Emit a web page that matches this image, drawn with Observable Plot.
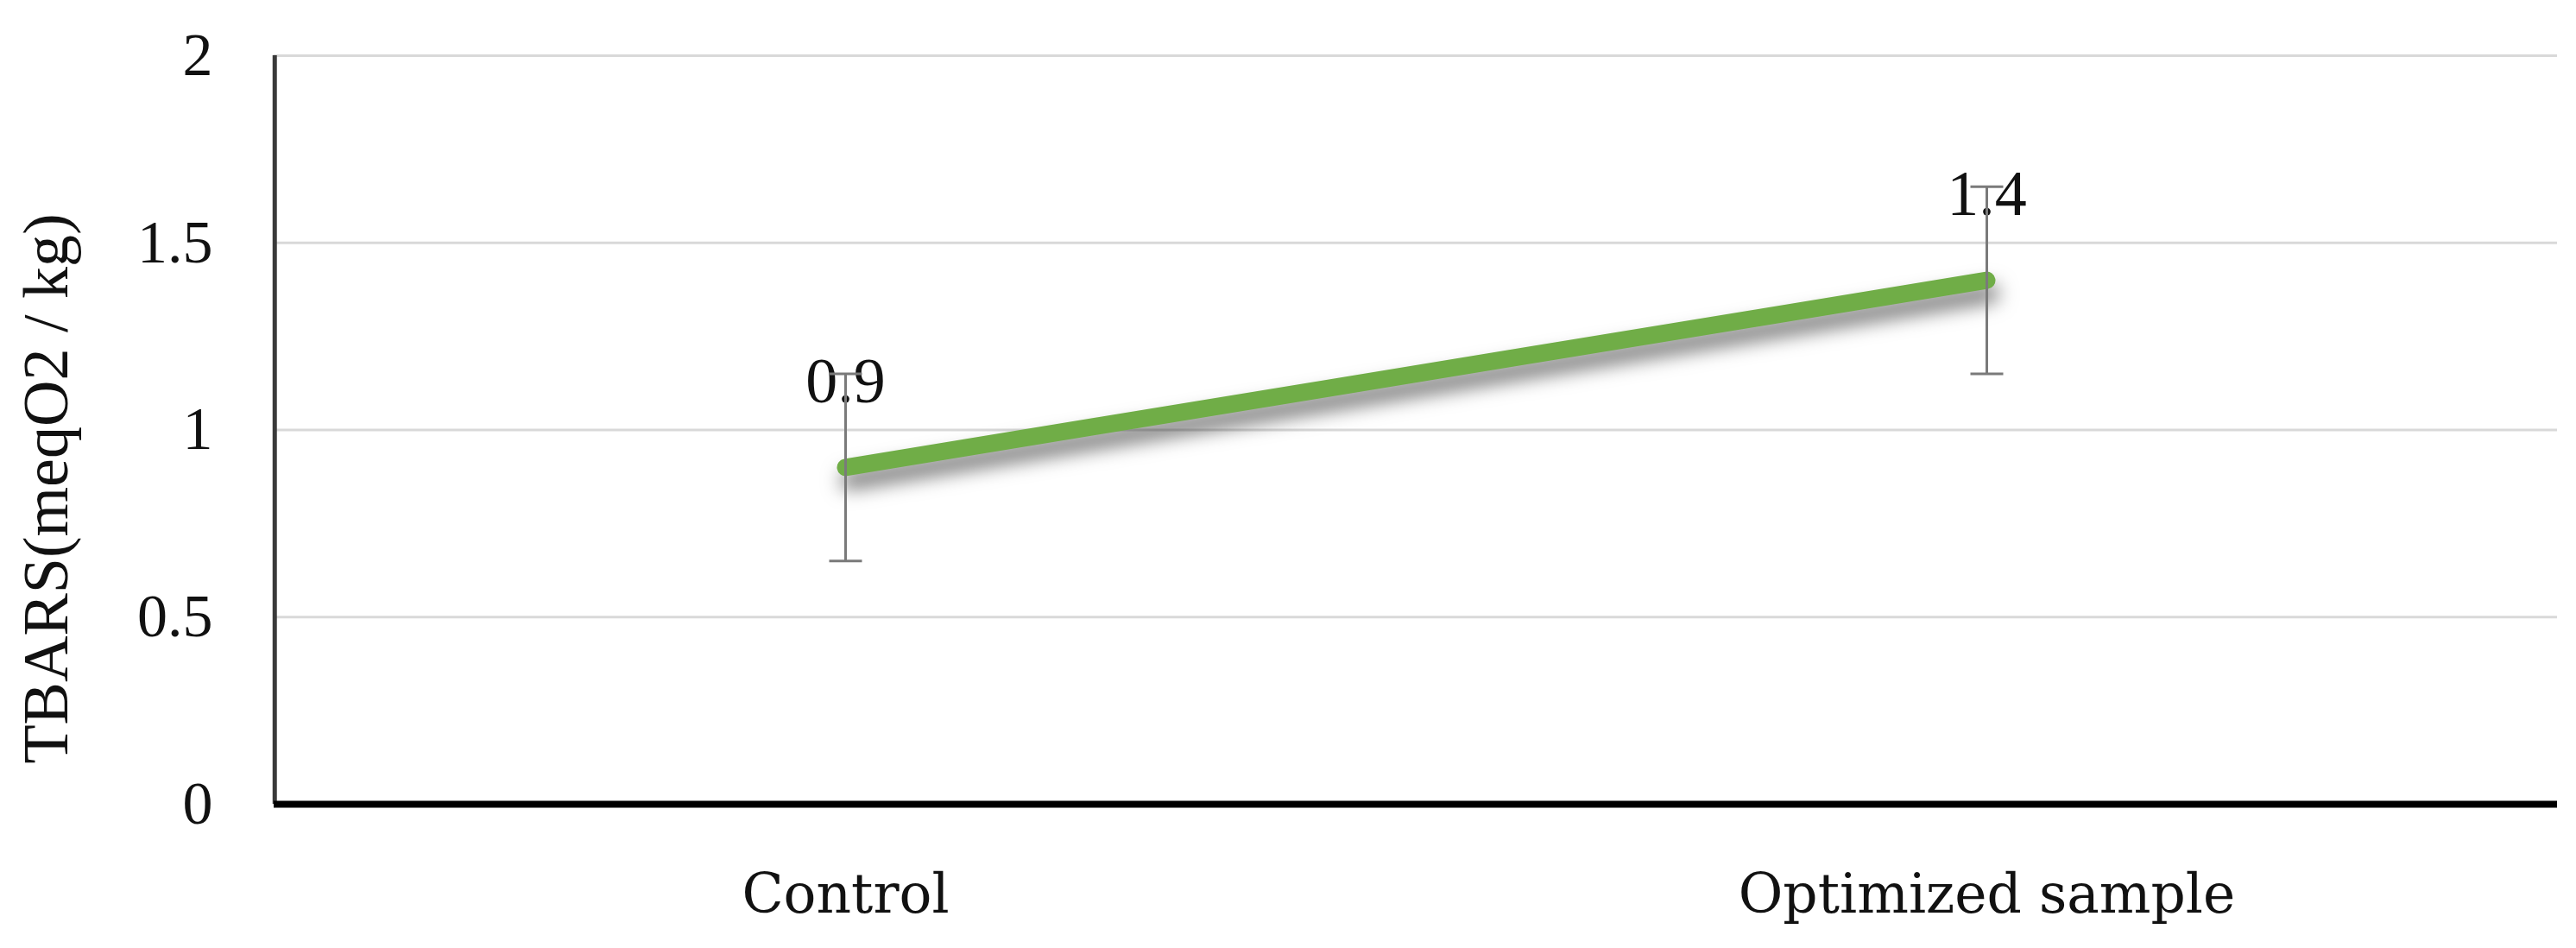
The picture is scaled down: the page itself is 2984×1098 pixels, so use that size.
<!DOCTYPE html>
<html>
<head>
<meta charset="utf-8">
<script src="https://cdn.jsdelivr.net/npm/d3@7"></script>
<script src="https://cdn.jsdelivr.net/npm/@observablehq/plot@0.6"></script>
<style>
  html, body { margin: 0; padding: 0; background: #fff; }
  #chart svg { display: block; }
</style>
</head>
<body>
<div id="chart"></div>
<script>
// ---- data ----
const categories = ["Control", "Optimized sample"];
const values = [0.9, 1.4];
const errors = [0.25, 0.25];
const yTicks = [0, 0.5, 1, 1.5, 2];
const yTitle = "TBARS(meqO2 / kg)";

const data = categories.map((c, i) => ({
  cat: c, value: values[i], lo: values[i] - errors[i], hi: values[i] + errors[i]
}));

// ---- layout ----
const W = 2984, H = 1098;
const ml = 317, mr = 22, mt = 64, mb = 167;
const plotW = W - ml - mr;
const step = plotW / categories.length;
const serif = "'Liberation Serif', 'DejaVu Serif', serif";
const green = "#70AD47";
const errColor = "#7a7a7a";

// horizontal error-bar cap drawn as a custom symbol (half-width = dot radius)
const capSymbol = {
  draw(context, size) {
    const w = Math.sqrt(size / Math.PI);
    context.moveTo(-w, 0);
    context.lineTo(w, 0);
  }
};

const chart = Plot.plot({
  width: W,
  height: H,
  marginLeft: ml,
  marginRight: mr,
  marginTop: mt,
  marginBottom: mb,
  style: { fontFamily: serif, background: "#fff", color: "#111" },
  x: { type: "point", domain: categories, padding: 0.5, label: null },
  y: { domain: [0, 2], ticks: yTicks, label: null },
  marks: [
    Plot.gridY(yTicks, { stroke: "#d9d9d9", strokeOpacity: 1, strokeWidth: 3 }),
    Plot.axisY(yTicks, {
      tickSize: 0, tickPadding: 71, fontSize: 70, fontFamily: serif,
      tickFormat: d => String(d), label: null
    }),
    Plot.axisX({
      tickSize: 0, tickPadding: 81, fontSize: 63,
      fontFamily: "'DejaVu Serif', serif", label: null
    }),
    Plot.ruleX([categories[0]], { dx: -step / 2, stroke: "#3a3a3a", strokeWidth: 5 }),
    Plot.ruleY([0], { stroke: "#000", strokeWidth: 8 }),
    Plot.text([yTitle], {
      frameAnchor: "left", rotate: -90, dx: -292, dy: 68,
      textAnchor: "middle", lineAnchor: "top",
      fontSize: 74, fontFamily: serif, fill: "#111"
    }),
    Plot.line(data, {
      x: "cat", y: "value", stroke: green, strokeWidth: 20,
      strokeLinecap: "round", strokeLinejoin: "round"
    }),
    Plot.text(data, {
      x: "cat", y: "value", text: d => d.value.toFixed(1),
      dy: -99, fontSize: 74, fontFamily: serif, fill: "#111"
    }),
    Plot.ruleX(data, { x: "cat", y1: "lo", y2: "hi", stroke: errColor, strokeWidth: 3 }),
    Plot.dot(data, { x: "cat", y: "hi", symbol: capSymbol, r: 19, fill: "none", stroke: errColor, strokeWidth: 3 }),
    Plot.dot(data, { x: "cat", y: "lo", symbol: capSymbol, r: 19, fill: "none", stroke: errColor, strokeWidth: 3 })
  ]
});

// soft drop shadow under the line, as in the reference
chart.querySelectorAll('g[aria-label="line"] path').forEach(p => {
  p.style.filter = "drop-shadow(4px 15px 11px rgba(0,0,0,0.55))";
});

document.getElementById("chart").appendChild(chart);
</script>
</body>
</html>
